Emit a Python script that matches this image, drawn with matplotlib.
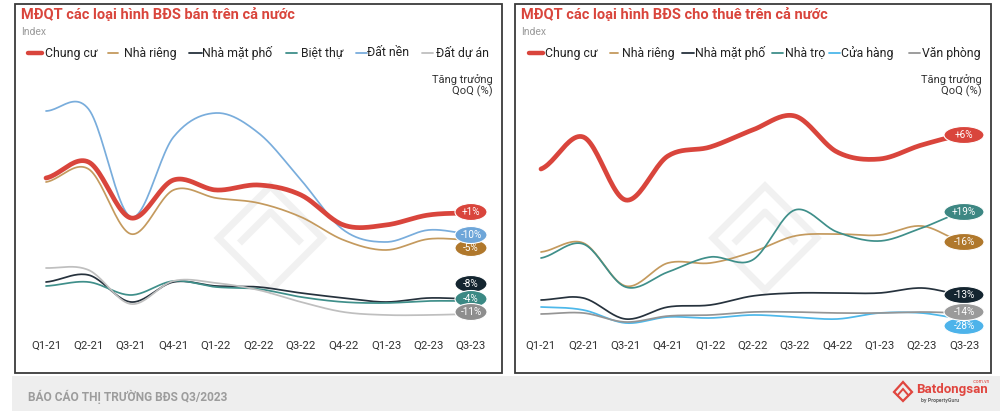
import numpy as np
import matplotlib
matplotlib.use('Agg')
import matplotlib.pyplot as plt
from matplotlib.patches import Ellipse, Rectangle, Polygon
from matplotlib.lines import Line2D

plt.rcParams['font.family'] = ['Roboto', 'DejaVu Sans']

# ---------------- data ----------------
quarters = ['Q1-21', 'Q2-21', 'Q3-21', 'Q4-21', 'Q1-22', 'Q2-22',
            'Q3-22', 'Q4-22', 'Q1-23', 'Q2-23', 'Q3-23']

# Left chart: sale price index (relative index units)
sale_names = ['Chung cư', 'Nhà riêng', 'Nhà mặt phố', 'Biệt thự', 'Đất nền', 'Đất dự án']
sale_chung_cu = [162, 178, 122, 160, 150, 155, 145, 115, 115, 125, 127]
sale_nha_rieng = [158, 171, 106, 150, 142, 137, 123, 100, 90, 101, 100]
sale_nha_mat_pho = [58, 65, 38, 58, 54, 53, 47, 42, 38, 42, 41]
sale_biet_thu = [54, 58, 45, 59, 53, 51, 43, 38, 37, 39, 39]
sale_dat_nen = [229, 231, 123, 203, 227, 207, 160, 110, 98, 110, 106]
sale_dat_du_an = [72, 70, 36, 59, 57, 50, 38, 28, 25, 25, 26]
sale_qoq = ['+1%', '-5%', '-8%', '-4%', '-10%', '-11%']
sale_label_y = [128, 92, 56, 41, 105, 28]

# Right chart: rent price index
rent_names = ['Chung cư', 'Nhà riêng', 'Nhà mặt phố', 'Nhà trọ', 'Cửa hàng', 'Văn phòng']
rent_chung_cu = [171, 203, 140, 184, 193, 210, 224, 188, 181, 195, 205]
rent_nha_rieng = [88, 97, 54, 77, 77, 88, 104, 106, 105, 114, 98]
rent_nha_mat_pho = [40, 42, 21, 33, 35, 44, 47, 47, 47, 52, 45]
rent_nha_tro = [82, 96, 53, 68, 83, 80, 130, 108, 99, 112, 128]
rent_cua_hang = [33, 30, 17, 23, 22, 25, 23, 21, 27, 27, 21]
rent_van_phong = [26, 27, 18, 24, 25, 28, 28, 27, 27, 28, 27]
rent_qoq = ['+6%', '-16%', '-13%', '+19%', '-28%', '-14%']
rent_label_y = [205, 98, 45, 128, 14, 28]

# ---------------- styles ----------------
RED = '#D9453C'
sale_colors = [RED, '#C49A5E', '#26323D', '#3F8F8A', '#79ADDC', '#BFBFBF']
sale_label_colors = [RED, '#B0782C', '#142530', '#3B8984', '#6EA6D9', '#8E8E8E']
rent_colors = [RED, '#C49A5E', '#26323D', '#3F8F8A', '#4DB8EA', '#959595']
rent_label_colors = [RED, '#B0782C', '#142530', '#3D8783', '#4DB3EA', '#9A9A9A']

W, H = 1000, 411
fig = plt.figure(figsize=(W / 100, H / 100), dpi=100)
fig.patch.set_facecolor('white')


def fx(x):
    return x / W


def fy(y):
    return 1 - y / H


def smooth(y, n=24):
    y = np.asarray(y, float)
    x = np.arange(len(y), dtype=float)
    yp = np.concatenate([[y[0]], y, [y[-1]]])
    xs, ys = [], []
    for i in range(len(y) - 1):
        p0, p1, p2, p3 = yp[i], yp[i + 1], yp[i + 2], yp[i + 3]
        m1 = (p2 - p0) / 2
        m2 = (p3 - p1) / 2
        t = np.linspace(0, 1, n, endpoint=(i == len(y) - 2))
        h00 = 2 * t**3 - 3 * t**2 + 1
        h10 = t**3 - 2 * t**2 + t
        h01 = -2 * t**3 + 3 * t**2
        h11 = t**3 - t**2
        xs.append(x[i] + t)
        ys.append(h00 * p1 + h10 * m1 + h01 * p2 + h11 * m2)
    return np.concatenate(xs), np.concatenate(ys)


# footer band
fig.add_artist(Rectangle((fx(12), 0), fx(1000 - 12), (411 - 376) / H,
                         transform=fig.transFigure, facecolor='#EEEEEE', edgecolor='none', zorder=-3))
fig.text(fx(28), fy(397), 'BÁO CÁO THỊ TRƯỜNG BĐS Q3/2023', fontsize=8.6, fontweight='bold',
         color='#9C9C9C', va='center', ha='left')

# logo
logo_red = '#E0463F'
fig.add_artist(Polygon([(fx(894), fy(392)), (fx(903), fy(382)), (fx(912), fy(392)), (fx(903), fy(401))],
                       closed=True, fill=False, edgecolor=logo_red, linewidth=1.6, transform=fig.transFigure))
fig.add_artist(Polygon([(fx(897), fy(396)), (fx(903), fy(389)), (fx(909), fy(396))],
                       closed=False, fill=False, edgecolor=logo_red, linewidth=1.4, transform=fig.transFigure))
fig.text(fx(916), fy(389), 'Batdongsan', fontsize=9.5, fontweight='bold', color=logo_red,
         va='center', ha='left')
fig.text(fx(990), fy(381), '.com.vn', fontsize=3.5, color=logo_red, va='center', ha='right')
fig.text(fx(921), fy(400), 'by PropertyGuru', fontsize=3.8, fontweight='bold', color='#666666',
         va='center', ha='left')


def watermark(cx, cy, s):
    col = '#F1F1F1'
    pts = [(cx - s, cy), (cx, cy - s), (cx + s, cy), (cx, cy + s)]
    fig.add_artist(Polygon([(fx(a), fy(b)) for a, b in pts], closed=True, fill=False,
                           edgecolor=col, linewidth=5, transform=fig.transFigure, zorder=-1))
    pts2 = [(cx - s * 0.55, cy + s * 0.05), (cx, cy - s * 0.5), (cx + s * 0.55, cy + s * 0.05)]
    fig.add_artist(Line2D([fx(a) for a, b in pts2], [fy(b) for a, b in pts2], color=col,
                          linewidth=5, transform=fig.transFigure, zorder=-1))


def panel(x0, x1, title, legend_items, series, names, colors, qoq, label_y, label_colors,
          tick0, tick_step, ell_w):
    # box
    fig.add_artist(Rectangle((fx(x0), fy(373)), fx(x1 - x0), (373 - 4) / H,
                             transform=fig.transFigure, facecolor='white',
                             edgecolor='#3A3A3A', linewidth=1.3, zorder=-2))
    watermark((x0 + x1) / 2 + 12, 238, 52)
    fig.text(fx(x0 + 6), fy(15), title, fontsize=10.5, fontweight='bold', color=RED,
             va='center', ha='left')
    fig.text(fx(x0 + 6), fy(32), 'Index', fontsize=7.5, color='#9A9A9A', va='center', ha='left')
    for (lx0, lx1, tx), name, col in zip(legend_items, names, colors):
        lw = 3.2 if col == RED else 1.3
        fig.add_artist(Line2D([fx(lx0), fx(lx1)], [fy(53), fy(53)], color=col, linewidth=lw,
                              transform=fig.transFigure, solid_capstyle='round'))
        fig.text(fx(tx), fy(53), name, fontsize=8.8, color='#222222', va='center', ha='left')
    fig.text(fx(x1 - 9), fy(80), 'Tăng trưởng', fontsize=8, color='#333333', va='center', ha='right')
    fig.text(fx(x1 - 9), fy(91), 'QoQ (%)', fontsize=8, color='#333333', va='center', ha='right')

    ax_left, ax_right = x0 + 5, x1 - 2
    ax = fig.add_axes([fx(ax_left), fy(335), fx(ax_right - ax_left), (335 - 90) / H])
    ax.set_facecolor('none')
    ax.set_xlim((ax_left - tick0) / tick_step, (ax_right - tick0) / tick_step)
    ax.set_ylim(5, 250)
    for s in ax.spines.values():
        s.set_visible(False)
    ax.set_yticks([])
    ax.set_xticks(range(len(quarters)))
    ax.set_xticklabels(quarters, fontsize=8.2, color='#333333')
    ax.tick_params(axis='x', length=0, pad=4)

    order = list(range(1, len(series))) + [0]
    for i in order:
        xs, ys = smooth(series[i])
        lw = 3.4 if i == 0 else 1.25
        ax.plot(xs, ys, color=colors[i], linewidth=lw, zorder=3 if i == 0 else 2,
                solid_capstyle='round')
    last = len(quarters) - 1
    for txt, ly, col in zip(qoq, label_y, label_colors):
        ax.add_patch(Ellipse((last, ly), ell_w / tick_step, 17, facecolor=col,
                             edgecolor='white', linewidth=0.8, zorder=5))
        ax.text(last, ly, txt, fontsize=7.2, color='white', ha='center', va='center', zorder=6)
    return ax


sale_series = [sale_chung_cu, sale_nha_rieng, sale_nha_mat_pho, sale_biet_thu,
               sale_dat_nen, sale_dat_du_an]
rent_series = [rent_chung_cu, rent_nha_rieng, rent_nha_mat_pho, rent_nha_tro,
               rent_cua_hang, rent_van_phong]

sale_legend = [(28, 42, 45), (108, 118, 124), (189, 202, 202), (286, 297, 301), (356, 367, 367),
               (422, 433, 436)]
rent_legend = [(529, 543, 545), (610, 618, 622), (682, 694, 695), (772, 783, 785), (829, 840, 841),
               (909, 920, 922)]

panel(15, 502, 'MĐQT các loại hình BĐS bán trên cả nước', sale_legend, sale_series,
      sale_names, sale_colors, sale_qoq, sale_label_y, sale_label_colors, 46, 42.5, 32)
panel(515, 991, 'MĐQT các loại hình BĐS cho thuê trên cả nước', rent_legend, rent_series,
      rent_names, rent_colors, rent_qoq, rent_label_y, rent_label_colors, 541, 42.3, 40)

fig.savefig('out.png', dpi=100, facecolor='white')
